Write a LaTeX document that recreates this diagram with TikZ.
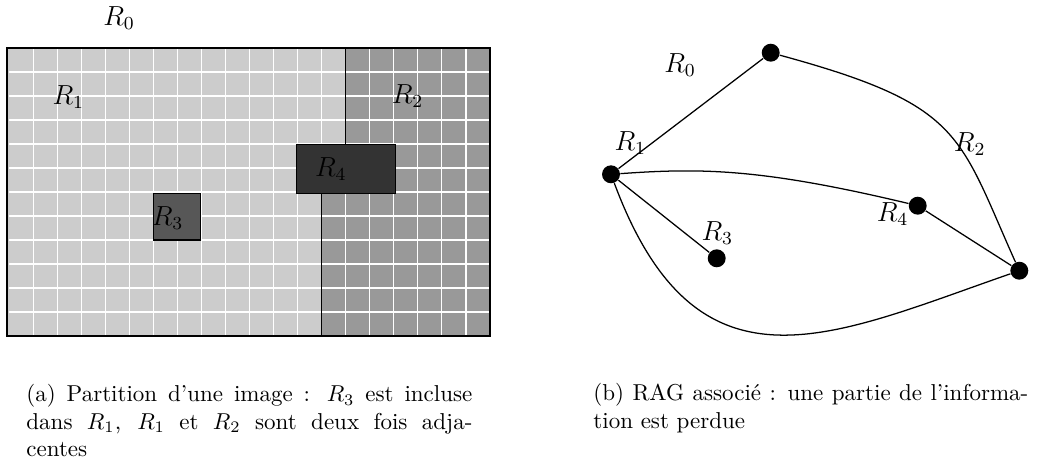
\documentclass[tikz,border=0pt]{standalone}
\begin{document}
\begin{tikzpicture}[x=0.4348pt,y=-0.4348pt,
  lbl/.style={anchor=base,inner sep=0pt,font=\large},
  vtx/.style={circle,fill=black,inner sep=0pt,minimum size=7.8pt},
  edge/.style={line width=0.55pt},
  gridline/.style={white,line width=0.5pt},
  border/.style={black,line width=0.5pt},
  captext/.style={anchor=base west,inner sep=0pt}]
\useasboundingbox (0,0) rectangle (1041,466);
\definecolor{rone}{HTML}{CCCCCC}
\definecolor{rtwo}{HTML}{999999}
\definecolor{rthree}{HTML}{575757}
\definecolor{rfour}{HTML}{333333}
% ---- left: partition ----
\fill[rone] (7,48) rectangle (490,336);
\fill[rtwo] (345.7,48) -- (490,48) -- (490,336) -- (321.7,336) -- (321.7,168) -- (345.7,168) -- cycle;
\foreach \i in {0,...,18} {
  \draw[gridline] ({33.4+24.03*\i},48) -- ({33.4+24.03*\i},336);
}
\foreach \j in {1,...,11} {
  \draw[gridline] (9.4,{48+24*\j}) -- (490,{48+24*\j});
}
\draw[border] (345.7,48) -- (345.7,144.3);
\draw[border] (321.7,193.3) -- (321.7,336);
\draw[border] (7,48) rectangle (490,336);
\draw[border,fill=rthree] (153.3,193.3) rectangle (200.5,240);
\draw[border,fill=rfour] (296.7,144.3) rectangle (395.7,193.3);
\node[lbl] (l0) at (119,25) {$R_0$};
\node[lbl] (l1) at (68.3,104.3) {$R_1$};
\node[lbl] (l2) at (407.5,103.3) {$R_2$};
\node[lbl] (l3) at (167.5,225) {$R_3$};
\node[lbl] (l4) at (330.8,176) {$R_4$};
% ---- right: RAG ----
\node[vtx] (T) at (770.7,52.7) {};
\node[vtx] (A) at (611,174.3) {};
\node[vtx] (C) at (716.7,258.3) {};
\node[vtx] (D) at (917.7,205.7) {};
\node[vtx] (B) at (1019.3,270.7) {};
\draw[edge] (A) -- (T);
\draw[edge] (T) .. controls (963,105) and (958,134) .. (B);
\draw[edge] (A) .. controls (700,168) and (760,168) .. (D);
\draw[edge] (A) -- (C);
\draw[edge] (D) -- (B);
\draw[edge] (A) .. controls (697,405) and (831,336) .. (B);
\node[lbl] (g0) at (680,72.7) {$R_0$};
\node[lbl] (g1) at (630.3,150.7) {$R_1$};
\node[lbl] (g2) at (969.7,151.7) {$R_2$};
\node[lbl] (g3) at (717.3,240) {$R_3$};
\node[lbl] (g4) at (892.5,221.7) {$R_4$};
% ---- captions ----
\node[captext] (capa) at (26,401.7) {\parbox[t]{193.9pt}{\baselineskip=11.9pt (a) Partition d'une image : $R_3$ est incluse\linebreak dans $R_1$, $R_1$ et $R_2$ sont deux fois adja-\linebreak centes}};
\node[captext] (capb) at (593,400.7) {\parbox[t]{189.1pt}{\baselineskip=11.9pt (b) RAG associé : une partie de l'informa-\linebreak tion est perdue}};
\end{tikzpicture}
\end{document}
